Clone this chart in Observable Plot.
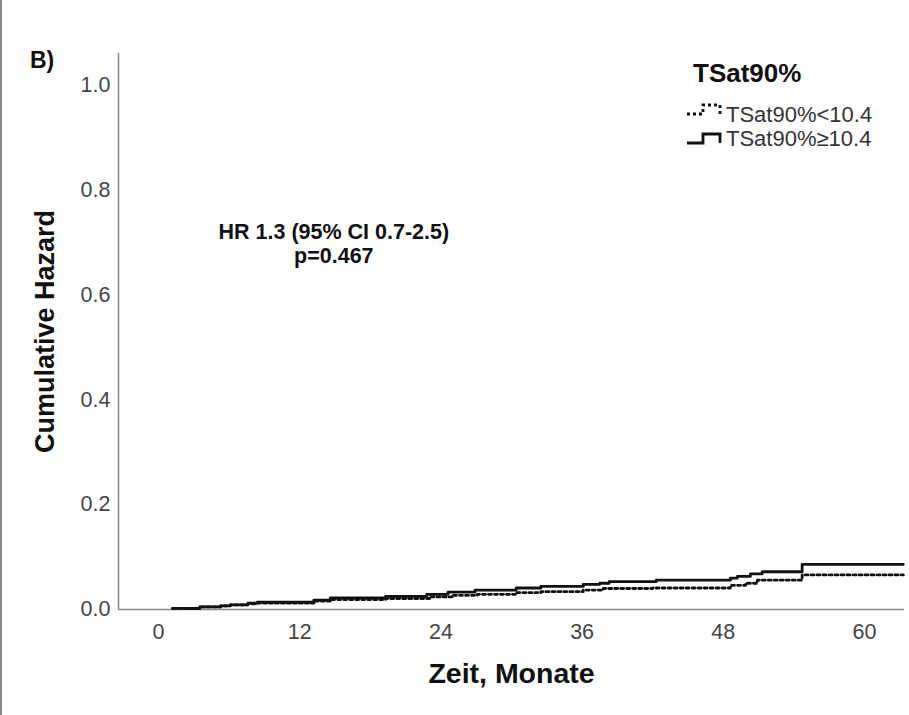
<!DOCTYPE html>
<html>
<head>
<meta charset="utf-8">
<script src="https://cdn.jsdelivr.net/npm/d3@7"></script>
<script src="https://cdn.jsdelivr.net/npm/@observablehq/plot@0.6"></script>
<style>
  html, body { margin: 0; padding: 0; background: #fff; }
  #wrap { position: relative; width: 909px; height: 715px; overflow: hidden; font-family: "Liberation Sans", Arial, sans-serif; }
  #overlay { position: absolute; left: 0; top: 0; pointer-events: none; }
  #edge { position: absolute; left: 0; top: 0; width: 2px; height: 715px; background: #8a8a8a; }
</style>
</head>
<body>
<div id="wrap"><div id="edge"></div></div>
<script>
// ---- data ----
const groupLabels = ["TSat90%<10.4", "TSat90%\u226510.4"];
const legendTitle = "TSat90%";
const panelLabel = "B)";
const xTitle = "Zeit, Monate";
const yTitle = "Cumulative Hazard";
const annotation = "HR 1.3 (95% CI 0.7-2.5)\np=0.467";
const xTicks = [0, 12, 24, 36, 48, 60];
const yTicks = [0, 0.2, 0.4, 0.6, 0.8, 1.0];
const xDomain = [-3.4, 63.4];
const yDomain = [0, 1.06];

// TSat90% < 10.4 (dashed)
const timeLow = [1.2, 3.5, 5.3, 6.1, 7.6, 8.4, 13.2, 14.6, 19.3, 23.1, 25.0, 27.1, 30.4, 32.5, 36.1, 37.8, 42.0, 48.6, 49.9, 50.9, 54.7, 63.3];
const hazLow  = [0.002, 0.005, 0.007, 0.009, 0.011, 0.012, 0.016, 0.019, 0.021, 0.024, 0.027, 0.029, 0.032, 0.034, 0.037, 0.040, 0.041, 0.046, 0.050, 0.056, 0.066, 0.066];

// TSat90% >= 10.4 (solid)
const timeHigh = [1.2, 3.5, 5.3, 6.1, 7.6, 8.4, 13.2, 14.6, 19.3, 22.8, 24.6, 26.9, 30.4, 32.5, 36.1, 37.5, 38.3, 42.3, 48.6, 49.2, 50.3, 51.3, 54.7, 63.3];
const hazHigh  = [0.002, 0.005, 0.007, 0.009, 0.012, 0.014, 0.018, 0.022, 0.025, 0.029, 0.033, 0.037, 0.041, 0.044, 0.048, 0.050, 0.053, 0.056, 0.060, 0.063, 0.068, 0.072, 0.086, 0.086];

const low = timeLow.map((t, i) => ({t, h: hazLow[i]}));
const high = timeHigh.map((t, i) => ({t, h: hazHigh[i]}));

const font = "'Liberation Sans', Arial, sans-serif";

const chart = Plot.plot({
  width: 909,
  height: 715,
  marginLeft: 118,
  marginRight: 5,
  marginTop: 53,
  marginBottom: 106,
  style: {fontFamily: font, background: "transparent", overflow: "visible"},
  x: {domain: xDomain},
  y: {domain: yDomain},
  marks: [
    Plot.axisX(xTicks, {tickSize: 0, tickPadding: 14, fontSize: 21.5, fill: "#444", label: null}),
    Plot.axisY(yTicks, {tickSize: 0, tickPadding: 8, fontSize: 21.5, fill: "#444", label: null, tickFormat: d => d.toFixed(1)}),
    Plot.ruleX([xDomain[0]], {stroke: "#8a8a8a", strokeWidth: 1.5}),
    Plot.ruleY([0], {stroke: "#8a8a8a", strokeWidth: 1.5}),
    Plot.line(low, {x: "t", y: "h", curve: "step-after", stroke: "#111", strokeWidth: 2.8, strokeDasharray: "3,3"}),
    Plot.line(high, {x: "t", y: "h", curve: "step-after", stroke: "#111", strokeWidth: 2.8}),
    Plot.text([annotation], {x: 14.9, y: 0.698, text: d => d, fontSize: 21.5, fontWeight: "bold", fill: "#111", lineHeight: 1.12}),
    Plot.text([yTitle], {text: d => d, frameAnchor: "left", textAnchor: "middle", lineAnchor: "middle", rotate: -90, dx: -73, fontSize: 27, fontWeight: "bold", fill: "#111"}),
    Plot.text([xTitle], {text: d => d, frameAnchor: "bottom", textAnchor: "middle", lineAnchor: "middle", dy: 64, fontSize: 28.5, fontWeight: "bold", fill: "#111"})
  ]
});
document.getElementById("wrap").appendChild(chart);

// ---- legend / panel label overlay ----
const ov = d3.select("#wrap").append("svg")
  .attr("id", "overlay").attr("width", 909).attr("height", 715)
  .style("font-family", font);

ov.append("text").attr("x", 30).attr("y", 68).attr("font-size", 23).attr("font-weight", "bold").attr("fill", "#111").text(panelLabel);
ov.append("text").attr("x", 693).attr("y", 82).attr("font-size", 26).attr("font-weight", "bold").attr("fill", "#111").text(legendTitle);

const items = [
  {label: groupLabels[0], y: 114, dash: "3,3", ty: 122},
  {label: groupLabels[1], y: 143, dash: null, ty: 146}
];
items.forEach(it => {
  const p = d3.path();
  p.moveTo(687, it.y); p.lineTo(703, it.y); p.lineTo(703, it.y - 9); p.lineTo(720, it.y - 9); p.lineTo(720, it.y);
  ov.append("path").attr("d", p.toString()).attr("fill", "none").attr("stroke", "#111")
    .attr("stroke-width", 2.8).attr("stroke-dasharray", it.dash);
  ov.append("text").attr("x", 726).attr("y", it.ty).attr("font-size", 22).attr("fill", "#333").text(it.label);
});
</script>
</body>
</html>
